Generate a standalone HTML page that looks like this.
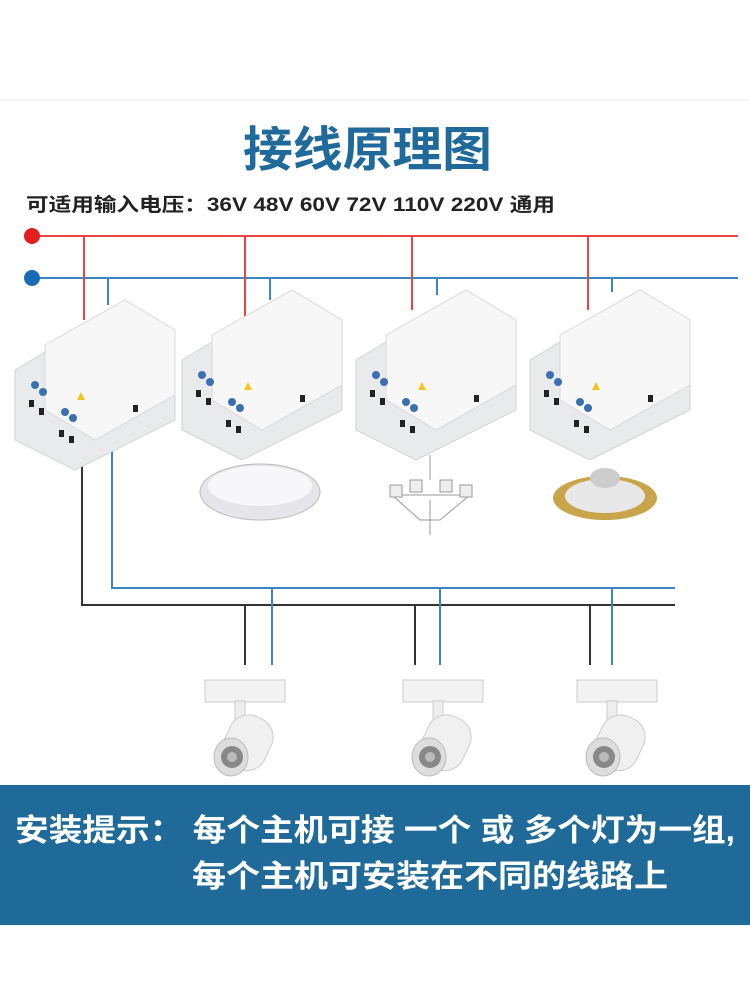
<!DOCTYPE html>
<html><head><meta charset="utf-8"><style>
body{margin:0;background:#fff;width:750px;height:1000px;overflow:hidden;font-family:"Liberation Sans","Noto Sans CJK SC",sans-serif}
</style></head><body>
<svg width="750" height="1000" xmlns="http://www.w3.org/2000/svg" style="position:absolute;left:0;top:0">
<defs>
<g id="mod">
 <polygon points="0,70 100,10 160,40 160,120 60,170 0,140" fill="#e9eaec" stroke="#cfd2d6"/>
 <polygon points="30,45 110,0 160,30 160,95 80,140 30,110" fill="#f7f7f8" stroke="#d8d8dc"/>
 <g fill="#3a6fb0"><circle cx="20" cy="85" r="4"/><circle cx="28" cy="92" r="4"/><circle cx="50" cy="112" r="4"/><circle cx="58" cy="118" r="4"/></g>
 <g fill="#222"><rect x="14" y="100" width="5" height="7"/><rect x="24" y="108" width="5" height="7"/><rect x="44" y="130" width="5" height="7"/><rect x="54" y="136" width="5" height="7"/></g>
 <rect x="118" y="105" width="5" height="7" fill="#222"/>
 <polygon points="62,100 66,92 70,100" fill="#f3c623"/>
</g>
<g id="spot">
 <rect x="0" y="15" width="80" height="22" fill="#f2f2f2" stroke="#ccc"/>
 <rect x="30" y="36" width="10" height="18" fill="#eee" stroke="#ccc"/>
 <rect x="20" y="50" width="45" height="55" rx="20" fill="#f0f0f0" stroke="#ccc" transform="rotate(25 42 78)"/>
 <ellipse cx="26" cy="92" rx="17" ry="19" fill="#ddd" stroke="#bbb"/>
 <circle cx="27" cy="92" r="11" fill="#888"/>
 <circle cx="27" cy="92" r="5" fill="#bbb"/>
</g>
</defs>
<line x1="0" y1="100" x2="750" y2="100" stroke="#eee"/>
<text x="243" y="166" font-size="48" font-weight="bold" fill="#1f6a9a" textLength="249" lengthAdjust="spacingAndGlyphs">接线原理图</text>
<text x="26" y="211" font-size="19" font-weight="bold" fill="#222" textLength="529" lengthAdjust="spacingAndGlyphs">可适用输入电压：36V  48V  60V  72V  110V 220V 通用</text>
<line x1="32" y1="236" x2="738" y2="236" stroke="#e84545" stroke-width="2"/>
<circle cx="32" cy="236" r="8" fill="#e31e1e"/>
<line x1="32" y1="278" x2="738" y2="278" stroke="#3c86c6" stroke-width="2"/>
<circle cx="32" cy="278" r="8" fill="#1a6ab8"/>
<g stroke-width="2">
<g stroke="#e84545"><line x1="84" y1="236" x2="84" y2="320"/><line x1="245" y1="236" x2="245" y2="320"/><line x1="412" y1="236" x2="412" y2="310"/><line x1="588" y1="236" x2="588" y2="310"/></g>
<g stroke="#3c86c6"><line x1="108" y1="278" x2="108" y2="305"/><line x1="270" y1="278" x2="270" y2="300"/><line x1="437" y1="278" x2="437" y2="295"/><line x1="612" y1="278" x2="612" y2="292"/></g>
<polyline points="82,460 82,605 675,605" fill="none" stroke="#333"/>
<polyline points="112,440 112,588 675,588" fill="none" stroke="#3c86c6"/>
<g stroke="#333"><line x1="245" y1="605" x2="245" y2="665"/><line x1="415" y1="605" x2="415" y2="665"/><line x1="590" y1="605" x2="590" y2="665"/></g>
<g stroke="#3c86c6"><line x1="272" y1="588" x2="272" y2="665"/><line x1="440" y1="588" x2="440" y2="665"/><line x1="612" y1="588" x2="612" y2="665"/></g>
</g>
<use href="#mod" x="15" y="300"/>
<use href="#mod" x="182" y="290"/>
<use href="#mod" x="356" y="290"/>
<use href="#mod" x="530" y="290"/>
<ellipse cx="260" cy="492" rx="60" ry="28" fill="#e6e6ea" stroke="#bbb"/>
<ellipse cx="260" cy="486" rx="52" ry="20" fill="#f7f7fa"/>
<g stroke="#999" fill="#eee"><line x1="430" y1="455" x2="430" y2="480"/><path d="M392 495 L470 495 L440 520 L420 520Z" fill="none"/>
<rect x="390" y="485" width="12" height="12"/><rect x="410" y="480" width="12" height="12"/><rect x="440" y="480" width="12" height="12"/><rect x="460" y="485" width="12" height="12"/><line x1="430" y1="500" x2="430" y2="535"/></g>
<ellipse cx="605" cy="498" rx="52" ry="22" fill="#c8a54a"/>
<ellipse cx="605" cy="496" rx="40" ry="17" fill="#e8e8e8"/>
<ellipse cx="605" cy="478" rx="15" ry="10" fill="#ccc"/>
<use href="#spot" x="205" y="665"/>
<use href="#spot" x="403" y="665"/>
<use href="#spot" x="577" y="665"/>
<rect x="0" y="785" width="750" height="140" fill="#1f6a98"/>
<text x="15" y="841" font-size="31" font-weight="bold" fill="#fff" textLength="720" lengthAdjust="spacingAndGlyphs">安装提示：  每个主机可接 一个 或 多个灯为一组,</text>
<text x="192" y="887" font-size="31" font-weight="bold" fill="#fff" textLength="476" lengthAdjust="spacingAndGlyphs">每个主机可安装在不同的线路上</text>
</svg>
</body></html>
